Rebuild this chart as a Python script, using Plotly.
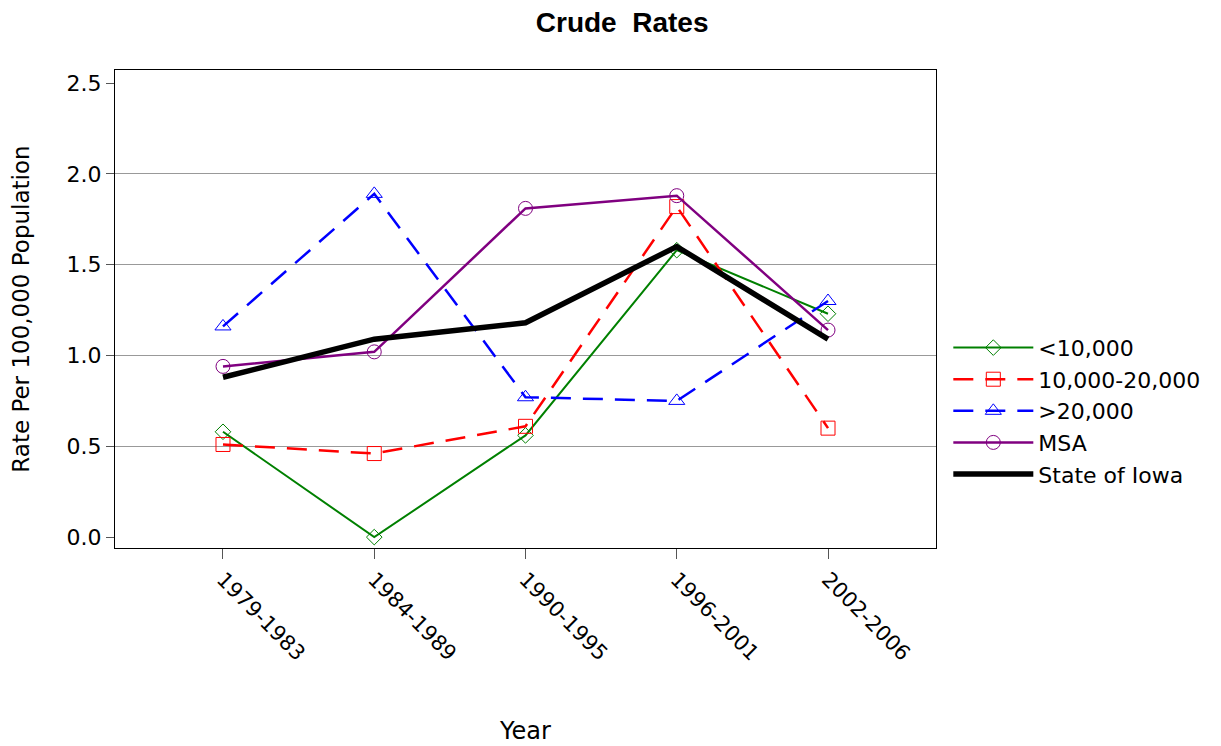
import plotly.graph_objects as go

years = ["1979-1983", "1984-1989", "1990-1995", "1996-2001", "2002-2006"]
lt10k = [0.58, 0.0, 0.56, 1.58, 1.23]
mid = [0.51, 0.46, 0.61, 1.82, 0.60]
gt20k = [1.16, 1.89, 0.77, 0.75, 1.30]
msa = [0.94, 1.02, 1.81, 1.88, 1.14]
iowa = [0.88, 1.09, 1.18, 1.60, 1.09]
yticks = [0.0, 0.5, 1.0, 1.5, 2.0, 2.5]
ytick_text = ["0.0", "0.5", "1.0", "1.5", "2.0", "2.5"]
grid_vals = [0.5, 1.0, 1.5, 2.0]

fig = go.Figure()
fig.add_trace(go.Scatter(x=years, y=lt10k, name="<10,000", mode="lines+markers",
                         line=dict(color="green", width=2),
                         marker=dict(symbol="diamond-open", size=12, color="green")))
fig.add_trace(go.Scatter(x=years, y=mid, name="10,000-20,000", mode="lines+markers",
                         line=dict(color="red", width=2.5, dash="20px,12px"),
                         marker=dict(symbol="square-open", size=14, color="red")))
fig.add_trace(go.Scatter(x=years, y=gt20k, name=">20,000", mode="lines+markers",
                         line=dict(color="blue", width=2.5, dash="20px,12px"),
                         marker=dict(symbol="triangle-up-open", size=14, color="blue")))
fig.add_trace(go.Scatter(x=years, y=msa, name="MSA", mode="lines+markers",
                         line=dict(color="purple", width=2.5),
                         marker=dict(symbol="circle-open", size=14, color="purple")))
fig.add_trace(go.Scatter(x=years, y=iowa, name="State of Iowa", mode="lines",
                         line=dict(color="black", width=5.5)))
# helper trace on yaxis2 that carries the gridlines
fig.add_trace(go.Scatter(x=[years[0]], y=[None], yaxis="y2", showlegend=False, hoverinfo="skip"))

font_main = "DejaVu Sans"
fig.update_layout(
    width=1221, height=746,
    paper_bgcolor="white", plot_bgcolor="white",
    margin=dict(l=107, r=293, t=62, b=206),
    title=dict(text="<b>Crude&nbsp; Rates</b>", x=0.503, xanchor="center", y=1.0, yanchor="top",
               yref="container", pad=dict(t=4),
               font=dict(family="Liberation Sans", size=28, color="black")),
    font=dict(family=font_main, color="black"),
    xaxis=dict(type="category", range=[-0.714, 4.714], tickangle=45,
               tickfont=dict(size=21, family=font_main), showgrid=False,
               ticks="outside", ticklen=10, tickcolor="#555",
               showline=True, linecolor="black", linewidth=1, mirror=True,
               title=dict(text="Year", font=dict(size=24, family=font_main), standoff=57)),
    yaxis=dict(range=[-0.06, 2.572], tickvals=yticks, ticktext=ytick_text,
               tickfont=dict(size=22, family=font_main), showgrid=False, zeroline=False,
               ticks="outside", ticklen=8, tickcolor="#555",
               showline=True, linecolor="black", linewidth=1, mirror=True,
               title=dict(text="Rate Per 100,000 Population", font=dict(size=23, family=font_main), standoff=30)),
    yaxis2=dict(overlaying="y", range=[-0.06, 2.572], tickvals=grid_vals, showticklabels=False,
                showgrid=True, gridcolor="#999", gridwidth=1, zeroline=False, showline=False),
    legend=dict(x=1.015, xanchor="left", y=0.287, yanchor="middle",
                font=dict(size=22, family=font_main), tracegroupgap=0,
                itemwidth=80, bgcolor="rgba(0,0,0,0)"),
)
fig.write_html("out.html")
